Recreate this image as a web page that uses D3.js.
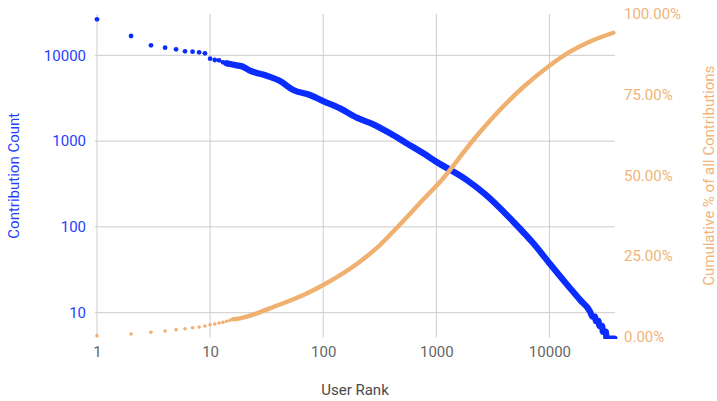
<!DOCTYPE html>
<html>
<head>
<meta charset="utf-8">
<script src="https://cdn.jsdelivr.net/npm/d3@7"></script>
<style>
  html, body { margin: 0; padding: 0; background: #fff; }
  svg { display: block; font-family: Roboto, "Noto Sans", sans-serif; }
</style>
</head>
<body>
<svg id="chart" width="717" height="401"></svg>
<script>
// ---- Data ----
// Contribution count for the top individual ranks (rank = index + 1)
const topRankCounts = [26280, 16790, 13080, 12260, 11750, 11130, 11020, 10840, 10550, 9130, 8813, 8740, 8286, 8070];
// Contribution count along the dense part of the curve: [rank, count]
const countCurve = [
  [14, 8070], [17.2, 7645], [19.5, 7365], [22.5, 6640], [31.7, 5780], [41.5, 5017], [54.4, 3940],
  [76.4, 3443], [100, 2930], [140.8, 2410], [198, 1875], [277, 1570], [390, 1233], [547, 942],
  [767, 721], [1000, 575], [1857, 352], [2696, 241], [4797, 115], [7206, 64.4],
  [10000, 37.7], [14220, 21.5], [18660, 14.1], [22870, 10.3],
  [24000, 9], [25300, 9], [25700, 8], [27200, 8], [27600, 7], [29200, 7],
  [29700, 6], [31500, 6], [32000, 5], [37500, 5]
];
// Cumulative share (%) for the top individual ranks (rank = index + 1)
const topRankCumPct = [0.31, 0.84, 1.36, 1.77, 2.17, 2.48, 2.79, 3.01, 3.32, 3.72, 3.94, 4.25, 4.46, 4.77, 5.08, 5.39];
// Cumulative share (%) along the dense part: [rank, pct]
const cumCurve = [
  [16, 5.39], [18.4, 5.70], [22.5, 6.51], [36.2, 9.20], [71.5, 13.39], [100, 16.02], [198, 22.53],
  [318, 28.42], [461, 34.21], [758, 42.36], [1116, 48.56], [2124, 60.95], [3420, 69.23],
  [5880, 77.38], [10000, 83.98], [15240, 88.32], [22870, 91.48], [36730, 94.2]
];
// Tick labels
const xTicks = [1, 10, 100, 1000, 10000];
const yTicks = [10, 100, 1000, 10000];
const pctTicks = [0, 0.25, 0.5, 0.75, 1];

// ---- Layout ----
const plot = { left: 97, right: 615, top: 14, bottom: 337.5 };
const blue = "#0b2cff", blueText = "#1f3fff";
const orange = "#f0b070", orangeText = "#f0b479";
const grid = "#cccccc";

const svg = d3.select("#chart");

const x = d3.scaleLog().domain([1, 38000]).range([plot.left, plot.right]);
const y = d3.scaleLog().domain([5.14, 30300]).range([plot.bottom, plot.top]);
const yR = d3.scaleLinear().domain([0, 1]).range([336.7, plot.top]);

// gridlines
const g = svg.append("g");
g.selectAll("line.h").data(yTicks).join("line")
  .attr("x1", plot.left - 2).attr("x2", plot.right)
  .attr("y1", d => y(d)).attr("y2", d => y(d))
  .attr("stroke", grid).attr("stroke-width", 1);
g.selectAll("line.v").data(xTicks).join("line")
  .attr("x1", d => x(d)).attr("x2", d => x(d))
  .attr("y1", plot.top).attr("y2", plot.bottom)
  .attr("stroke", grid).attr("stroke-width", 1);

// axes labels via d3 axes
const xAxis = svg.append("g").attr("transform", `translate(0,${plot.bottom})`)
  .call(d3.axisBottom(x).tickValues(xTicks).tickFormat(d3.format("d")).tickSize(0).tickPadding(9));
const yAxis = svg.append("g").attr("transform", `translate(${plot.left},0)`)
  .call(d3.axisLeft(y).tickValues(yTicks).tickFormat(d3.format("d")).tickSize(0).tickPadding(11));
const yRAxis = svg.append("g").attr("transform", `translate(${plot.right},0)`)
  .call(d3.axisRight(yR).tickValues(pctTicks).tickFormat(d3.format(".2%")).tickSize(0).tickPadding(9));
[xAxis, yAxis, yRAxis].forEach(a => { a.select(".domain").remove(); a.selectAll("text").style("font-size", "15px").style("font-family", "Roboto"); });
xAxis.selectAll("text").attr("fill", "#666666");
yAxis.selectAll("text").attr("fill", blueText);
yRAxis.selectAll("text").attr("fill", orangeText);

// clip
svg.append("clipPath").attr("id", "clip").append("rect")
  .attr("x", plot.left - 5).attr("y", plot.top - 10)
  .attr("width", plot.right - plot.left + 10).attr("height", plot.bottom - plot.top + 11.5);

const marks = svg.append("g").attr("clip-path", "url(#clip)");

// blue series
const lineB = d3.line().x(d => x(d[0])).y(d => y(d[1])).curve(d3.curveMonotoneX);
marks.append("path").datum(countCurve).attr("d", lineB)
  .attr("fill", "none").attr("stroke", blue).attr("stroke-width", 6.3)
  .attr("stroke-linejoin", "round").attr("stroke-linecap", "round");
marks.selectAll("circle.b").data(topRankCounts).join("circle")
  .attr("cx", (d, i) => x(i + 1)).attr("cy", d => y(d)).attr("r", 2.4).attr("fill", blue);

// orange series
const lineO = d3.line().x(d => x(d[0])).y(d => yR(d[1] / 100)).curve(d3.curveMonotoneX);
marks.append("path").datum(cumCurve).attr("d", lineO)
  .attr("fill", "none").attr("stroke", orange).attr("stroke-width", 4.4)
  .attr("stroke-linejoin", "round").attr("stroke-linecap", "round");
marks.selectAll("circle.o").data(topRankCumPct).join("circle")
  .attr("cx", (d, i) => x(i + 1)).attr("cy", d => yR(d / 100)).attr("r", 1.8).attr("fill", orange);

// titles
svg.append("text").text("User Rank")
  .attr("x", 355).attr("y", 395).attr("text-anchor", "middle")
  .attr("fill", "#4a4a4a").style("font-size", "15px");
svg.append("text").text("Contribution Count")
  .attr("transform", `translate(19,${(plot.top + plot.bottom) / 2}) rotate(-90)`)
  .attr("text-anchor", "middle").attr("fill", blueText).style("font-size", "15px");
svg.append("text").text("Cumulative % of all Contributions")
  .attr("transform", `translate(714,${(plot.top + plot.bottom) / 2}) rotate(-90)`)
  .attr("text-anchor", "middle").attr("fill", orangeText).style("font-size", "15px");
</script>
</body>
</html>
